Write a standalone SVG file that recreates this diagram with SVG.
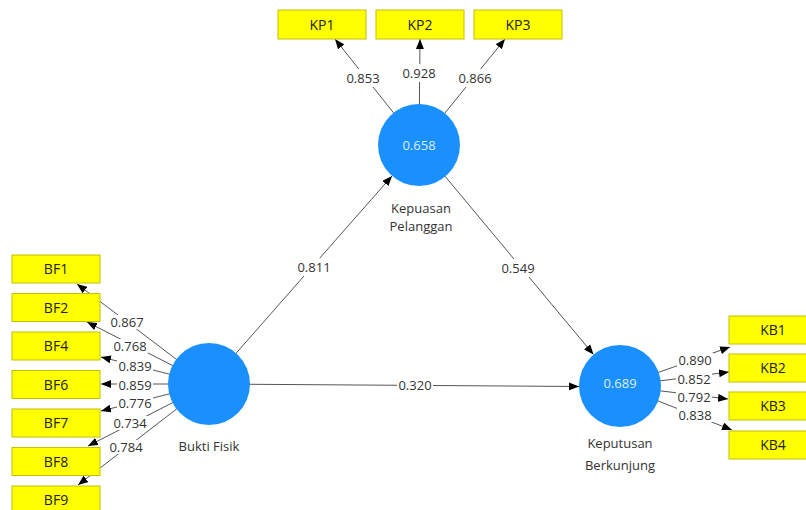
<svg xmlns="http://www.w3.org/2000/svg" width="806" height="510" viewBox="0 0 806 510">
<defs>
<marker id="ah" markerUnits="userSpaceOnUse" markerWidth="10" markerHeight="8" refX="10" refY="4" orient="auto">
<path d="M0,0 L10,4 L0,8 z" fill="#000"/>
</marker>
<style>
.ln{stroke:#555;stroke-width:1;fill:none;marker-end:url(#ah)}
.lb{fill:#fff}
.lt{font-family:"Open Sans","Noto Sans",sans-serif;font-size:13px;fill:#333;text-anchor:middle}
.box{fill:#ffff00;stroke:#c2c200;stroke-width:1}
.bt{font-family:"Open Sans","Noto Sans",sans-serif;font-size:14px;fill:#222;text-anchor:middle}
.cir{fill:#1a90ff}
.ct{font-family:"Open Sans","Noto Sans",sans-serif;font-size:13px;fill:#dcecff;text-anchor:middle}
.nt{font-family:"Open Sans","Noto Sans",sans-serif;font-size:13px;fill:#333;text-anchor:middle}
</style>
</defs>
<rect width="806" height="510" fill="#fff"/>
<g id="connectors">
<line class="ln" x1="209" y1="384" x2="392" y2="176"/>
<line class="ln" x1="419" y1="145" x2="593.5" y2="354.5"/>
<line class="ln" x1="209" y1="384" x2="579" y2="386.5"/>
<line class="ln" x1="419" y1="145" x2="335" y2="39"/>
<line class="ln" x1="419" y1="145" x2="420" y2="39"/>
<line class="ln" x1="419" y1="145" x2="505" y2="39"/>
<line class="ln" x1="209" y1="384" x2="77" y2="284"/>
<line class="ln" x1="209" y1="384" x2="87" y2="322"/>
<line class="ln" x1="209" y1="384" x2="101" y2="357"/>
<line class="ln" x1="209" y1="384" x2="101" y2="384"/>
<line class="ln" x1="209" y1="384" x2="101" y2="411"/>
<line class="ln" x1="209" y1="384" x2="88" y2="446"/>
<line class="ln" x1="209" y1="384" x2="78" y2="485"/>
<line class="ln" x1="620" y1="386" x2="730" y2="347"/>
<line class="ln" x1="620" y1="386" x2="729" y2="372"/>
<line class="ln" x1="620" y1="386" x2="728" y2="399"/>
<line class="ln" x1="620" y1="386" x2="732" y2="430"/>
<g id="labels">
<rect class="lb" x="296" y="258" width="36" height="18"/><text class="lt" x="314" y="271.5">0.811</text>
<rect class="lb" x="500" y="259" width="36" height="18"/><text class="lt" x="518" y="272.5">0.549</text>
<rect class="lb" x="397" y="378" width="36" height="15"/><text class="lt" x="415" y="390">0.320</text>
<rect class="lb" x="345" y="69" width="36" height="18"/><text class="lt" x="363" y="82.5">0.853</text>
<rect class="lb" x="401" y="64" width="36" height="18"/><text class="lt" x="419" y="77.5">0.928</text>
<rect class="lb" x="457" y="69" width="36" height="18"/><text class="lt" x="475" y="82.5">0.866</text>
<rect class="lb" x="109" y="315" width="36" height="14"/><text class="lt" x="127" y="326.5">0.867</text>
<rect class="lb" x="112" y="339" width="36" height="14"/><text class="lt" x="130" y="350.5">0.768</text>
<rect class="lb" x="117" y="359" width="36" height="14"/><text class="lt" x="135" y="370.5">0.839</text>
<rect class="lb" x="117" y="378" width="36" height="14"/><text class="lt" x="135" y="389.5">0.859</text>
<rect class="lb" x="117" y="396" width="36" height="14"/><text class="lt" x="135" y="407.5">0.776</text>
<rect class="lb" x="112" y="416" width="36" height="14"/><text class="lt" x="130" y="427.5">0.734</text>
<rect class="lb" x="108" y="440" width="36" height="14"/><text class="lt" x="126" y="451.5">0.784</text>
<rect class="lb" x="677" y="353" width="36" height="14"/><text class="lt" x="695" y="364.5">0.890</text>
<rect class="lb" x="676" y="372" width="36" height="14"/><text class="lt" x="694" y="383.5">0.852</text>
<rect class="lb" x="676" y="390" width="36" height="14"/><text class="lt" x="694" y="401.5">0.792</text>
<rect class="lb" x="677" y="408" width="36" height="14"/><text class="lt" x="695" y="419.5">0.838</text>
</g>
</g>
<g id="BuktiFisik"><circle class="cir" cx="209" cy="384" r="41"/><text class="nt" x="209" y="451">Bukti Fisik</text></g>
<g id="KepuasanPelanggan"><circle class="cir" cx="419" cy="145" r="41"/><text class="ct" x="419" y="149.5">0.658</text><text class="nt" x="421" y="213">Kepuasan</text><text class="nt" x="421" y="231">Pelanggan</text></g>
<g id="KeputusanBerkunjung"><circle class="cir" cx="620" cy="386" r="41"/><text class="ct" x="620" y="388">0.689</text><text class="nt" x="620" y="448">Keputusan</text><text class="nt" x="620" y="470">Berkunjung</text></g>
<g id="KP1"><rect class="box" x="278" y="10" width="88" height="29"/><text class="bt" x="322" y="29.5">KP1</text></g>
<g id="KP2"><rect class="box" x="376" y="10" width="88" height="29"/><text class="bt" x="420" y="29.5">KP2</text></g>
<g id="KP3"><rect class="box" x="474" y="10" width="88" height="29"/><text class="bt" x="518" y="29.5">KP3</text></g>
<g id="BF1"><rect class="box" x="12" y="255" width="88" height="28"/><text class="bt" x="56" y="274">BF1</text></g>
<g id="BF2"><rect class="box" x="12" y="293.5" width="88" height="28"/><text class="bt" x="56" y="312.5">BF2</text></g>
<g id="BF4"><rect class="box" x="12" y="332" width="88" height="28"/><text class="bt" x="56" y="351">BF4</text></g>
<g id="BF6"><rect class="box" x="12" y="370.5" width="88" height="28"/><text class="bt" x="56" y="389.5">BF6</text></g>
<g id="BF7"><rect class="box" x="12" y="409" width="88" height="28"/><text class="bt" x="56" y="428">BF7</text></g>
<g id="BF8"><rect class="box" x="12" y="447.5" width="88" height="28"/><text class="bt" x="56" y="466.5">BF8</text></g>
<g id="BF9"><rect class="box" x="12" y="486" width="88" height="28"/><text class="bt" x="56" y="505">BF9</text></g>
<g id="KB1"><rect class="box" x="729" y="316" width="88" height="28"/><text class="bt" x="773" y="335">KB1</text></g>
<g id="KB2"><rect class="box" x="729" y="354" width="88" height="28"/><text class="bt" x="773" y="373">KB2</text></g>
<g id="KB3"><rect class="box" x="729" y="392" width="88" height="28"/><text class="bt" x="773" y="411">KB3</text></g>
<g id="KB4"><rect class="box" x="729" y="431" width="88" height="28"/><text class="bt" x="773" y="450">KB4</text></g>
</svg>
